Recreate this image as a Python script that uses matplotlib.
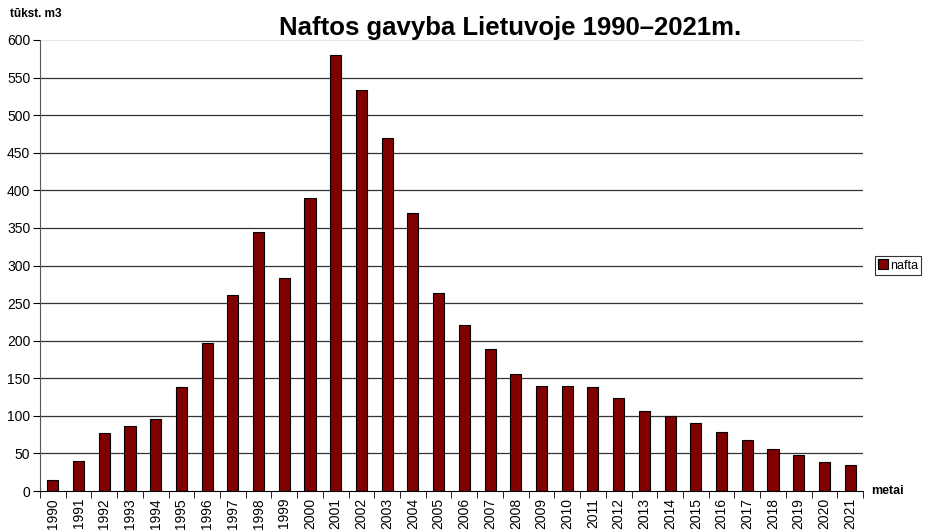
import numpy as np
import matplotlib.pyplot as plt
from matplotlib.ticker import MultipleLocator, FixedLocator

plt.rcParams['font.family'] = ['Liberation Sans', 'DejaVu Sans']

years = [str(y) for y in range(1990, 2022)]
nafta = [14, 40, 77, 86, 96, 139, 197, 261, 345, 284, 390, 580, 533, 470, 370, 264,
         221, 189, 156, 140, 140, 139, 124, 107, 100, 90, 78, 68, 56, 48, 38, 35]

fig = plt.figure(figsize=(9.36, 5.31), dpi=100)
ax = fig.add_axes([0.0427, 0.0753, 0.8793, 0.8494])

x = np.arange(len(years))
ax.bar(x, nafta, width=0.43, color='#800000', edgecolor='black', linewidth=0.8,
       label='nafta', zorder=3)

ax.set_xlim(-0.5, len(years) - 0.5)
ax.set_ylim(0, 600)
ax.yaxis.set_major_locator(MultipleLocator(50))
ax.set_xticks(x)
ax.set_xticklabels(years, rotation=90, fontsize=10)
ax.xaxis.set_minor_locator(FixedLocator(np.arange(-0.5, len(years), 1)))
ax.tick_params(axis='x', which='major', length=0, pad=5)
ax.tick_params(axis='x', which='minor', length=5, direction='out')
ax.tick_params(axis='y', length=5, direction='out', labelsize=10, pad=2)

for v in range(50, 600, 50):
    ax.axhline(v, color='#333333', linewidth=0.9, zorder=1)
ax.axhline(600, color='#e8e8e8', linewidth=0.9, zorder=1)

for s in ['top', 'right']:
    ax.spines[s].set_visible(False)
ax.spines['left'].set_color('#555555')
ax.spines['bottom'].set_color('black')

fig.text(0.545, 0.934, 'Naftos gavyba Lietuvoje 1990–2021m.', ha='center', va='baseline',
         fontsize=18.5, fontweight='bold')
fig.text(0.011, 0.973, 'tūkst. m3', ha='left', va='center', fontsize=8.5, fontweight='bold')
fig.text(0.931, 0.0753, 'metai', ha='left', va='center', fontsize=9, fontweight='bold')

leg = ax.legend(loc='center left', bbox_to_anchor=(0.9343 / 0.8793 - 0.0427 / 0.8793, 0.5),
                bbox_transform=ax.transAxes, fontsize=9, frameon=True, fancybox=False,
                edgecolor='black', handlelength=0.8, handleheight=0.8, handletextpad=0.2,
                borderpad=0.25, borderaxespad=0)
leg.get_frame().set_linewidth(0.8)

fig.savefig('out.png', dpi=100)
